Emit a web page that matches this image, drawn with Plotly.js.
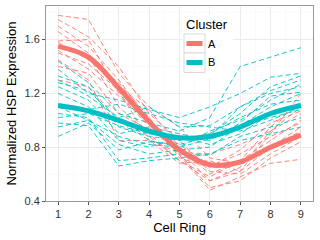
<!DOCTYPE html>
<html>
<head>
<meta charset="utf-8">
<script src="https://cdn.plot.ly/plotly-3.0.1.min.js"></script>
<style>html,body{margin:0;padding:0;background:#fff;}#chart{width:320px;height:240px;}</style>
</head>
<body>
<div id="chart"></div>
<script>
var cellRing = [1, 2, 3, 4, 5, 6, 7, 8, 9];

var clusterA = [
  [1.78, 1.75, 1.35, 1.10, 0.95, 0.72, 0.68, 0.80, 0.95],
  [1.75, 1.62, 1.40, 1.05, 0.85, 0.62, 0.60, 0.75, 0.88],
  [1.70, 1.55, 1.30, 1.00, 0.78, 0.55, 0.62, 0.90, 1.20],
  [1.66, 1.50, 1.25, 1.08, 0.80, 0.60, 0.70, 0.95, 1.14],
  [1.59, 1.60, 1.20, 0.95, 0.75, 0.50, 0.55, 0.72, 0.84],
  [1.58, 1.45, 1.28, 1.02, 0.72, 0.65, 0.78, 0.98, 1.07],
  [1.55, 1.48, 1.10, 0.90, 0.70, 0.58, 0.70, 0.85, 1.00],
  [1.52, 1.38, 1.18, 0.98, 0.74, 0.48, 0.58, 0.68, 0.71],
  [1.50, 1.42, 1.22, 0.85, 0.68, 0.70, 0.62, 0.80, 0.92],
  [1.45, 1.30, 0.85, 0.85, 0.76, 0.75, 0.82, 0.92, 1.05],
  [1.40, 1.35, 1.05, 0.93, 0.82, 0.66, 0.75, 0.88, 0.98],
  [1.30, 1.25, 1.00, 0.88, 0.70, 0.55, 0.65, 0.92, 1.10]
];

var clusterB = [
  [1.44, 1.28, 1.05, 0.98, 0.92, 1.02, 1.40, 1.47, 1.54],
  [1.38, 1.20, 1.15, 1.08, 1.02, 1.10, 1.20, 1.32, 1.35],
  [1.33, 1.25, 0.95, 0.88, 0.85, 0.90, 1.05, 1.25, 1.33],
  [1.30, 1.18, 1.02, 1.10, 0.95, 0.96, 1.10, 1.22, 1.30],
  [1.28, 1.22, 1.00, 0.85, 0.80, 0.92, 1.00, 1.15, 1.27],
  [1.25, 1.15, 0.90, 0.95, 0.90, 0.85, 0.98, 1.18, 1.21],
  [1.20, 1.10, 0.85, 0.80, 0.88, 0.82, 0.90, 1.05, 1.12],
  [1.12, 1.08, 1.12, 1.05, 0.98, 0.95, 0.92, 1.00, 1.10],
  [1.10, 1.00, 0.82, 0.75, 0.78, 0.80, 0.96, 1.10, 1.20],
  [1.05, 1.02, 0.70, 0.72, 0.75, 0.74, 0.88, 0.95, 1.02],
  [1.02, 1.05, 0.96, 0.90, 0.86, 0.90, 1.02, 1.12, 1.15],
  [0.98, 0.96, 0.66, 0.70, 0.72, 0.75, 0.85, 0.90, 0.95],
  [0.95, 1.00, 0.88, 0.82, 0.80, 0.86, 0.95, 1.02, 1.08],
  [0.88, 0.98, 0.78, 0.84, 0.82, 0.88, 1.10, 1.20, 1.25]
];

var smoothA = [1.55, 1.47, 1.24, 0.99, 0.78, 0.67, 0.69, 0.80, 0.89];
var smoothB = [1.11, 1.07, 1.00, 0.92, 0.87, 0.88, 0.95, 1.05, 1.11];

var clusterNames = ['A', 'B'];
var legendTitle = 'Cluster';
var colA = '#F8766D', colB = '#00BFC4';

var traces = [];
clusterA.forEach(function (s) {
  traces.push({x: cellRing, y: s, type: 'scatter', mode: 'lines', showlegend: false, hoverinfo: 'skip',
    line: {color: colA, width: 0.9, dash: '5px,3px'}});
});
clusterB.forEach(function (s) {
  traces.push({x: cellRing, y: s, type: 'scatter', mode: 'lines', showlegend: false, hoverinfo: 'skip',
    line: {color: colB, width: 0.9, dash: '5px,3px'}});
});
traces.push({x: cellRing, y: smoothA, name: clusterNames[0], type: 'scatter', mode: 'lines', showlegend: false,
  line: {color: colA, width: 5, shape: 'spline', smoothing: 1}});
traces.push({x: cellRing, y: smoothB, name: clusterNames[1], type: 'scatter', mode: 'lines', showlegend: false,
  line: {color: colB, width: 5, shape: 'spline', smoothing: 1}});

// manual ggplot-style legend (paper coordinates)
var L = 46, W = 267, B0 = 201, H = 195;
function px(v) { return (v - L) / W; }
function py(v) { return (B0 - v) / H; }
var shapes = [
  {type: 'rect', xref: 'paper', yref: 'paper', x0: px(182), x1: px(233), y0: py(78), y1: py(14),
    fillcolor: '#fff', line: {width: 0}, layer: 'above'},
  {type: 'rect', xref: 'paper', yref: 'paper', x0: px(184), x1: px(205), y0: py(53), y1: py(34),
    fillcolor: '#fff', line: {color: '#D9D9D9', width: 1}, layer: 'above'},
  {type: 'rect', xref: 'paper', yref: 'paper', x0: px(184), x1: px(205), y0: py(72.5), y1: py(53),
    fillcolor: '#fff', line: {color: '#D9D9D9', width: 1}, layer: 'above'},
  {type: 'line', xref: 'paper', yref: 'paper', x0: px(186.5), x1: px(202.5), y0: py(43.5), y1: py(43.5),
    line: {color: colA, width: 5}, layer: 'above'},
  {type: 'line', xref: 'paper', yref: 'paper', x0: px(186.5), x1: px(202.5), y0: py(62.5), y1: py(62.5),
    line: {color: colB, width: 5}, layer: 'above'}
];
var annotations = [
  {xref: 'paper', yref: 'paper', x: px(184), y: py(24), xanchor: 'left', yanchor: 'middle', showarrow: false,
    text: legendTitle, font: {size: 13, color: '#000'}},
  {xref: 'paper', yref: 'paper', x: px(206), y: py(43.5), xanchor: 'left', yanchor: 'middle', showarrow: false,
    text: clusterNames[0], font: {size: 11, color: '#000'}},
  {xref: 'paper', yref: 'paper', x: px(206), y: py(62.5), xanchor: 'left', yanchor: 'middle', showarrow: false,
    text: clusterNames[1], font: {size: 11, color: '#000'}}
];

var layout = {
  width: 320, height: 240,
  margin: {l: 46, r: 7, t: 6, b: 39},
  paper_bgcolor: '#fff', plot_bgcolor: '#fff',
  font: {family: 'Liberation Sans, Arial, sans-serif', color: '#000'},
  xaxis: {
    range: [0.6, 9.4], tickvals: cellRing, ticktext: cellRing.map(String),
    ticks: 'outside', ticklen: 3, tickcolor: '#555', tickwidth: 1,
    tickfont: {size: 11, color: '#333'},
    showgrid: true, gridcolor: '#EBEBEB', gridwidth: 1,
    minor: {dtick: 0.5, tick0: 0.5, showgrid: true, gridcolor: '#F5F5F5', gridwidth: 0.5},
    zeroline: false, showline: true, linecolor: '#999', linewidth: 1, mirror: true,
    title: {text: 'Cell Ring', font: {size: 13, color: '#000'}, standoff: 3}
  },
  yaxis: {
    range: [0.4, 1.85], tickvals: [0.4, 0.8, 1.2, 1.6], ticktext: ['0.4', '0.8', '1.2', '1.6'],
    ticks: 'outside', ticklen: 3, tickcolor: '#555', tickwidth: 1,
    tickfont: {size: 11, color: '#333'},
    showgrid: true, gridcolor: '#EBEBEB', gridwidth: 1,
    minor: {dtick: 0.2, tick0: 0.2, showgrid: true, gridcolor: '#F5F5F5', gridwidth: 0.5},
    zeroline: false, showline: true, linecolor: '#999', linewidth: 1, mirror: true,
    title: {text: 'Normalized HSP Expression', font: {size: 13, color: '#000'}, standoff: 4}
  },
  shapes: shapes,
  annotations: annotations,
  showlegend: false
};

Plotly.newPlot('chart', traces, layout, {staticPlot: true, displayModeBar: false});
</script>
</body>
</html>
